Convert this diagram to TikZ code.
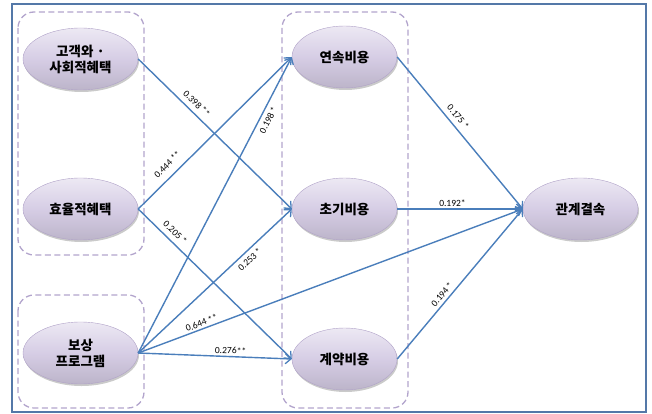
\documentclass[tikz,border=0pt]{standalone}
\usepackage{fontspec}
\newfontfamily\kr{Noto Sans CJK KR}
\newfontfamily\lbl{Carlito}
\usetikzlibrary{arrows.meta,shadows,shapes.geometric}
\definecolor{lav}{RGB}{214,205,229}
\definecolor{lavdark}{RGB}{176,162,200}
\definecolor{edgeblue}{RGB}{74,126,187}
\definecolor{framec}{RGB}{84,120,168}
\definecolor{dashc}{RGB}{178,164,204}
\tikzset{
  latent/.style={ellipse, minimum width=115pt, minimum height=62pt, inner sep=0pt,
    top color=lav!45!white, bottom color=lav!88!black, middle color=lav,
    draw=lavdark, line width=0.4pt,
    drop shadow={shadow xshift=1pt, shadow yshift=-2pt, opacity=0.35, fill=black!60},
    font=\kr\bfseries\fontsize{13.5}{16}\selectfont, align=center, text=black},
  midlatent/.style={latent, minimum width=105pt},
  grp/.style={draw=dashc, line width=1.3pt, dash pattern=on 6pt off 3.5pt, rounded corners=16pt},
  arrowpath/.style={draw=edgeblue, line width=1.4pt, -{Straight Barb[length=5.5pt,width=10pt,line width=1.3pt]}},
  coef/.style={font=\lbl\fontsize{9.5}{10}\selectfont, sloped, inner sep=1pt, text=black}
}
\begin{document}
\begin{tikzpicture}[x=1pt,y=-1pt]
\useasboundingbox (0,0) rectangle (652,414);
\draw[framec, line width=1.5pt] (12,4) rectangle (646,412);
% groups
\draw[grp] (18,12) rectangle (144,255);
\draw[grp] (18,295) rectangle (144,408);
\draw[grp] (282,12) rectangle (408,408);
% nodes
\node[latent] (gg) at (80.5,59) {고객와 ·\\사회적혜택};
\node[latent] (hy) at (80.5,209) {효율적혜택};
\node[latent] (bs) at (80.5,353) {보상\\프로그램};
\node[midlatent] (cs) at (344.5,57) {연속비용};
\node[midlatent] (cb) at (344.5,209) {초기비용};
\node[midlatent] (gy) at (344.5,359) {계약비용};
\node[latent] (gk) at (580.5,209) {관계결속};
% paths
\draw[arrowpath] (gg.east) -- node[coef, pos=0.34, above=4pt] {0.398 **} (cb.west);
\draw[arrowpath] (hy.east) -- node[coef, pos=0.24, above=6pt] {0.444 **} (cs.west);
\draw[arrowpath] (hy.east) -- node[coef, pos=0.2, above=4pt] {0.205 *} (gy.west);
\draw[arrowpath] (bs.east) -- node[coef, pos=0.80, below=3pt] {0.198 *} (cs.west);
\draw[arrowpath] (bs.east) -- node[coef, pos=0.69, below=3pt] {0.253 *} (cb.west);
\draw[arrowpath] (bs.east) -- node[coef, pos=0.17, above=1pt] {0.644 **} (gk.west);
\draw[arrowpath] (bs.east) -- node[coef, pos=0.6, above=1pt] {0.276**} (gy.west);
\draw[arrowpath] (cs.east) -- node[coef, pos=0.43, above=4pt] {0.175 *} (gk.west);
\draw[arrowpath] (cb.east) -- node[coef, pos=0.44, above=1pt] {0.192*} (gk.west);
\draw[arrowpath] (gy.east) -- node[coef, pos=0.40, above=2pt] {0.194 *} (gk.west);
\end{tikzpicture}
\end{document}
